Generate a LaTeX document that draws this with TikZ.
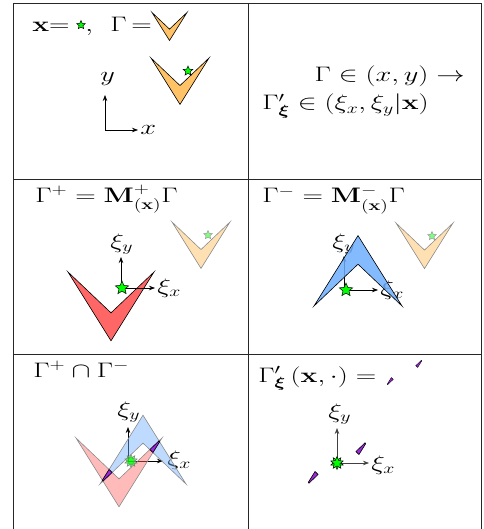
\RequirePackage{fix-cm}
\documentclass[tikz,border=0pt]{standalone}
\usepackage{amsmath,bm}
\usetikzlibrary{shapes.geometric,arrows.meta}
\definecolor{chevorange}{RGB}{255,194,102}
\definecolor{chevred}{RGB}{255,102,102}
\definecolor{chevblue}{RGB}{110,175,255}
\definecolor{sliver}{RGB}{160,40,220}
\definecolor{stargreen}{RGB}{0,255,0}
\tikzset{
  txt/.style={inner sep=0pt, font=\fontsize{21}{25}\selectfont, xscale=1.35},
  gridline/.style={line width=0.9pt, draw=black!85},
  axis/.style={line width=0.7pt, -{Stealth[length=6pt,width=4.5pt]}},
  starnode/.style={star, star points=5, star point ratio=2.2, inner sep=0pt,
    fill=stargreen, draw=black, line width=0.5pt},
  fadedstar/.style={starnode, fill opacity=0.5, draw=black!40},
  fadedchev/.style={draw=black!45, fill=chevorange, fill opacity=0.5, line width=0.6pt},
  chev/.pic={\path[pic actions] (-1,0) -- (0,1.6) -- (1,0) -- (0,0.95) -- cycle;},
  inter/.pic={
    \begin{scope}
      \clip (-55,-23) -- (-12,46) -- (31,-23) -- (-12,18) -- cycle;
      \fill[sliver] (-31,23) -- (12,-46) -- (55,23) -- (12,-18) -- cycle;
      \draw (-31,23) -- (12,-46) -- (55,23) -- (12,-18) -- cycle;
    \end{scope}
    \begin{scope}
      \clip (-31,23) -- (12,-46) -- (55,23) -- (12,-18) -- cycle;
      \draw (-55,-23) -- (-12,46) -- (31,-23) -- (-12,18) -- cycle;
    \end{scope}
  },
}
\begin{document}
\begin{tikzpicture}[x=1pt,y=-1pt]
\useasboundingbox (0,0) rectangle (483,529);
% grid
\draw[gridline] (13,529) -- (13,3) -- (481.5,3) -- (481.5,529);
\draw[gridline] (248,3) -- (248,529);
\draw[gridline] (13,179) -- (481.5,179);
\draw[gridline] (13,354) -- (481.5,354);

% ---- cell 1
\node[txt,anchor=base west] (t1a) at (32,32) {$\mathbf{x}{=}$};
\node[starnode, minimum size=9pt] (s1a) at (81,25) {};
\node[txt,anchor=base west] (t1b) at (85,32) {$,\mkern8mu\Gamma\mkern-2mu=$};
\pic[draw=black, fill=chevorange, line width=0.6pt, scale=17.5] at (169.5,12.5) {chev};
\pic[draw=black, fill=chevorange, line width=0.6pt, scale=29] at (180,58) {chev};
\node[starnode, minimum size=10pt] (s1b) at (188,71) {};
\coordinate (o1) at (105,130);
\coordinate (o1y) at (105,95);
\coordinate (o1x) at (138,130);
\draw[axis] (o1) -- (o1y);
\draw[axis] (o1) -- (o1x);
\node[txt,anchor=base west] (l1y) at (100,82) {$y$};
\node[txt,anchor=base west] (l1x) at (140,135) {$x$};

% ---- cell 2
\node[txt,anchor=base east] (t2a) at (465,82) {$\Gamma \in (x,y) \rightarrow$};
\node[txt,anchor=base west] (t2b) at (262,110) {$\Gamma'_{\bm{\xi}} \in (\xi_x,\xi_y|\mathbf{x})$};

% ---- cell 3
\node[txt,anchor=base west] (t3) at (35,202) {$\Gamma^+ = \mathbf{M}^+_{(\mathbf{x})}\Gamma$};
\pic[fadedchev, scale=29] at (201,222) {chev};
\node[fadedstar, minimum size=9pt] (s3f) at (208,235) {};
\pic[draw=black, fill=chevred, line width=0.6pt, scale=43] at (111,272) {chev};
\coordinate (o3) at (121,288);
\coordinate (o3y) at (121,257);
\coordinate (o3x) at (155,288);
\draw[axis] (o3) -- (o3y);
\draw[axis] (o3) -- (o3x);
\node[txt,anchor=base west] (l3y) at (110,248) {$\xi_y$};
\node[txt,anchor=base west] (l3x) at (157,293) {$\xi_x$};
\node[starnode, minimum size=14pt] (s3) at (122,288) {};

% ---- cell 4
\node[txt,anchor=base west] (t4) at (262,203) {$\Gamma^- = \mathbf{M}^-_{(\mathbf{x})}\Gamma$};
\pic[fadedchev, scale=28.5] at (424.5,223) {chev};
\node[fadedstar, minimum size=9pt] (s4f) at (432,236) {};
\coordinate (o4) at (344,290);
\coordinate (o4y) at (344,256);
\coordinate (o4x) at (378,290);
\draw[axis] (o4) -- (o4y);
\draw[axis] (o4) -- (o4x);
\node[txt,anchor=base west] (l4y) at (332,248) {$\xi_y$};
\node[txt,anchor=base west] (l4x) at (380,295) {$\xi_x$};
\pic[draw=black, fill=chevblue, fill opacity=0.85, line width=0.6pt, xscale=44, yscale=-44] at (358,306) {chev};
\node[starnode, minimum size=14pt] (s4) at (346,290) {};

% ---- cell 5
\node[txt,anchor=base west] (t5) at (33,377) {$\Gamma^+ \cap \Gamma^-$};
\coordinate (o5) at (128,461);
\coordinate (o5y) at (128,427);
\coordinate (o5x) at (163,461);
\draw[axis] (o5) -- (o5y);
\draw[axis] (o5) -- (o5x);
\node[txt,anchor=base west] (l5y) at (117,416) {$\xi_y$};
\node[txt,anchor=base west] (l5x) at (167,465) {$\xi_x$};
\pic[draw=black!45, fill=chevred, fill opacity=0.45, line width=0.6pt, scale=43] at (119,438) {chev};
\pic[draw=black!45, fill=chevblue, fill opacity=0.45, line width=0.6pt, xscale=43, yscale=-43] at (143,484) {chev};
\pic[line width=0.6pt] at (131,461) {inter};
\node[starnode, minimum size=13pt, rotate=180, fill opacity=0.6, draw=black!50] (s5b) at (131,461) {};
\node[starnode, minimum size=13pt, fill opacity=0.6, draw=black!50] (s5a) at (131,461) {};

% ---- cell 6
\node[txt,anchor=base west] (t6) at (258,382) {$\Gamma'_{\bm{\xi}}\,(\mathbf{x},\cdot) =$};
\pic[line width=0.4pt, scale=0.6] at (404.5,372.5) {inter};
\coordinate (o6) at (337,463);
\coordinate (o6y) at (337,428);
\coordinate (o6x) at (369,463);
\draw[axis, black!75] (o6) -- (o6y);
\draw[axis, black!75] (o6) -- (o6x);
\node[txt,anchor=base west] (l6y) at (328,418) {$\xi_y$};
\node[txt,anchor=base west] (l6x) at (371,470) {$\xi_x$};
\pic[line width=0.6pt] at (337,463) {inter};
\node[starnode, minimum size=13pt, rotate=180] (s6b) at (337,463) {};
\node[starnode, minimum size=13pt] (s6a) at (337,463) {};
\end{tikzpicture}
\end{document}
